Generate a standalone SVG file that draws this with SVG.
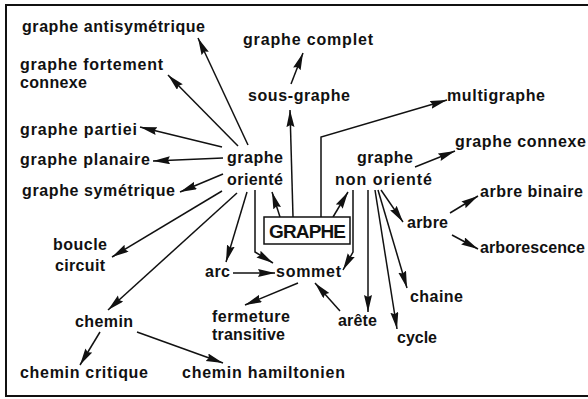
<svg xmlns="http://www.w3.org/2000/svg" width="588" height="399" viewBox="0 0 588 399">
<style>
text{font-family:"Liberation Sans",Arial,sans-serif;font-weight:bold;font-size:16px;fill:#111}
.c line,.c polyline{stroke:#111;stroke-width:1.5;fill:none;marker-end:url(#ah)}
.big{font-size:19px}
</style>
<defs>
<marker id="ah" markerUnits="userSpaceOnUse" markerWidth="18" markerHeight="9" refX="17" refY="4" orient="auto"><path d="M0,0 L17,4 L0,8 L2,4 z" fill="#111"/></marker>
</defs>
<rect x="6" y="5" width="600" height="391" fill="#fff" stroke="#111" stroke-width="2"/>
<g class="c" id="connectors">
<line x1="248" y1="145" x2="198" y2="38"/>
<line x1="238" y1="146" x2="168" y2="75"/>
<line x1="222" y1="147" x2="140" y2="127"/>
<line x1="223" y1="158" x2="153" y2="161"/>
<line x1="223" y1="174" x2="180" y2="192"/>
<line x1="222" y1="191" x2="112" y2="257"/>
<line x1="237" y1="193" x2="108" y2="310"/>
<line x1="247" y1="192" x2="226" y2="262"/>
<polyline points="255,190 255,252 273,263"/>
<line x1="233" y1="273" x2="275" y2="273"/>
<line x1="298" y1="283" x2="245" y2="305"/>
<line x1="340" y1="311" x2="315" y2="283"/>
<line x1="280" y1="217" x2="272" y2="192"/>
<line x1="333" y1="217" x2="348" y2="192"/>
<line x1="293" y1="217" x2="290" y2="110"/>
<polyline points="321,217 321,137 447,100"/>
<line x1="291" y1="84" x2="303" y2="53"/>
<line x1="415" y1="167" x2="455" y2="151"/>
<polyline points="353,190 353,252 343,270"/>
<line x1="368" y1="190" x2="368" y2="312"/>
<line x1="375" y1="190" x2="397" y2="329"/>
<line x1="378" y1="190" x2="407" y2="288"/>
<line x1="381" y1="190" x2="403" y2="222"/>
<line x1="450" y1="213" x2="478" y2="196"/>
<line x1="452" y1="235" x2="478" y2="249"/>
<line x1="100" y1="332" x2="80" y2="365"/>
<line x1="137" y1="332" x2="223" y2="363"/>
</g>
<g id="graphe"><rect x="264" y="217" width="86" height="27" fill="#fff" stroke="#111" stroke-width="1.5"/><text class="big" x="269" y="237.500" textLength="77">GRAPHE</text></g>
<g id="antisym"><text x="22" y="32" textLength="183">graphe antisymétrique</text></g>
<g id="complet"><text x="243" y="45" textLength="130">graphe complet</text></g>
<g id="fortement"><text x="20" y="70" textLength="143">graphe fortement</text><text x="20" y="88" textLength="67">connexe</text></g>
<g id="sousgraphe"><text x="248" y="101" textLength="102">sous-graphe</text></g>
<g id="multigraphe"><text x="447" y="101" textLength="98">multigraphe</text></g>
<g id="partiel"><text x="20" y="135" textLength="117">graphe partiei</text></g>
<g id="planaire"><text x="20" y="165" textLength="130">graphe planaire</text></g>
<g id="oriente"><text x="227" y="163" textLength="56">graphe</text><text x="227" y="185" textLength="56">orienté</text></g>
<g id="symetrique"><text x="22" y="196" textLength="153">graphe symétrique</text></g>
<g id="connexe"><text x="455" y="147" textLength="131">graphe connexe</text></g>
<g id="nonoriente"><text x="357" y="163" textLength="56">graphe</text><text x="335" y="185" textLength="97">non orienté</text></g>
<g id="arbrebinaire"><text x="480" y="197" textLength="103">arbre binaire</text></g>
<g id="arbre"><text x="407" y="228" textLength="41">arbre</text></g>
<g id="arborescence"><text x="480" y="253" textLength="105">arborescence</text></g>
<g id="boucle"><text x="53" y="250" textLength="54">boucle</text><text x="55" y="271" textLength="50">circuit</text></g>
<g id="arc"><text x="205" y="277" textLength="25">arc</text></g>
<g id="sommet"><text x="276" y="277" textLength="65">sommet</text></g>
<g id="chemin"><text x="75" y="327" textLength="58">chemin</text></g>
<g id="fermeture"><text x="212" y="322" textLength="78">fermeture</text><text x="212" y="340" textLength="73">transitive</text></g>
<g id="arete"><text x="338" y="326" textLength="39">arête</text></g>
<g id="chaine"><text x="410" y="302" textLength="53">chaine</text></g>
<g id="cycle"><text x="397" y="343" textLength="40">cycle</text></g>
<g id="critique"><text x="20" y="378" textLength="128">chemin critique</text></g>
<g id="hamiltonien"><text x="182" y="378" textLength="163">chemin hamiltonien</text></g>
</svg>
